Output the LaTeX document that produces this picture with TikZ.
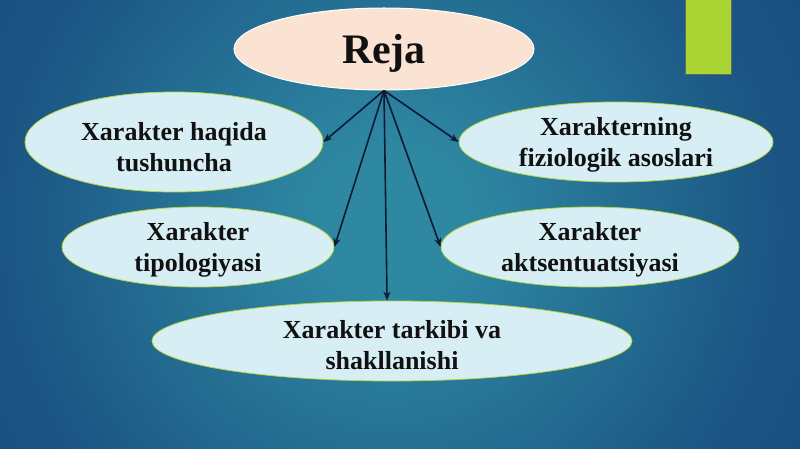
\documentclass[tikz,border=0pt]{standalone}
\usepackage{fontspec}
\setmainfont{Liberation Serif}
\usetikzlibrary{shapes.geometric,arrows.meta}
\definecolor{bgc1}{HTML}{2E88A2}
\definecolor{bgc2}{HTML}{1B5584}
\definecolor{bgc3}{HTML}{133D6E}
\definecolor{bgc4}{HTML}{0E3262}
\definecolor{ellfill}{HTML}{D8EEF5}
\definecolor{ellborder}{HTML}{B5D63A}
\definecolor{rejafill}{HTML}{FBE3D4}
\definecolor{arrowc}{HTML}{0C1A36}
\definecolor{greenbar}{HTML}{A9D434}
\definecolor{txt}{HTML}{111111}
\pgfdeclareradialshading{bgglow}{\pgfpoint{0bp}{0bp}}{color(0bp)=(bgc1); color(4bp)=(bgc1); color(20bp)=(bgc2); color(38bp)=(bgc3); color(50bp)=(bgc4)}
\begin{document}
\begin{tikzpicture}[x=1pt,y=-1pt,
  ell/.style={ellipse, draw=ellborder, line width=0.8pt, fill=ellfill, inner sep=0pt},
  lbl/.style={align=center, text=txt, inner sep=0pt, font=\fontsize{26}{31}\selectfont\bfseries},
  rejastyle/.style={ellipse, draw=white, line width=1pt, fill=rejafill, inner sep=0pt},
  rejalbl/.style={text=txt, inner sep=0pt, font=\fontsize{42}{48}\selectfont\bfseries},
  arr/.style={draw=arrowc, line width=1.6pt, -{Stealth[length=9pt,width=7pt]}}]
\useasboundingbox (0,0) rectangle (800,449);
\begin{scope}
  \clip (0,0) rectangle (800,449);
  \fill[bgc4] (0,0) rectangle (800,449);
  \shade[shading=bgglow] (390,225) circle (480pt);
\end{scope}
\fill[greenbar, draw=black!60, line width=0.5pt] (685,-2) rectangle (731,74);

\node[rejastyle, minimum width=300pt, minimum height=82pt] (reja) at (384,49) {};
\node[rejalbl] (rejat) at ([yshift=-4pt]reja.center) {Reja};
\node[ell, minimum width=298pt, minimum height=100pt] (a) at (174,142) {};
\node[ell, minimum width=314pt, minimum height=80pt] (b) at (616,142) {};
\node[ell, minimum width=272pt, minimum height=80pt] (c) at (198,247) {};
\node[ell, minimum width=298pt, minimum height=80pt] (d) at (590,247) {};
\node[ell, minimum width=480pt, minimum height=80pt] (e) at (392,341) {};

\node[lbl] (at) at ([yshift=-5pt]a.center) {Xarakter haqida\\tushuncha};
\node[lbl] (bt) at ([yshift=-3pt]b.center) {Xarakterning\\fiziologik asoslari};
\node[lbl] (ct) at ([yshift=-3pt]c.center) {Xarakter\\tipologiyasi};
\node[lbl] (dt) at ([yshift=-3pt]d.center) {Xarakter\\aktsentuatsiyasi};
\node[lbl] (et) at ([yshift=-4pt]e.center) {Xarakter tarkibi va\\shakllanishi};

\draw[arr] (reja.south) -- (a.east);
\draw[arr] (reja.south) -- (b.west);
\draw[arr] (reja.south) -- (c.east);
\draw[arr] (reja.south) -- (d.west);
\draw[arr] (reja.south) -- (e.97);
\end{tikzpicture}
\end{document}
